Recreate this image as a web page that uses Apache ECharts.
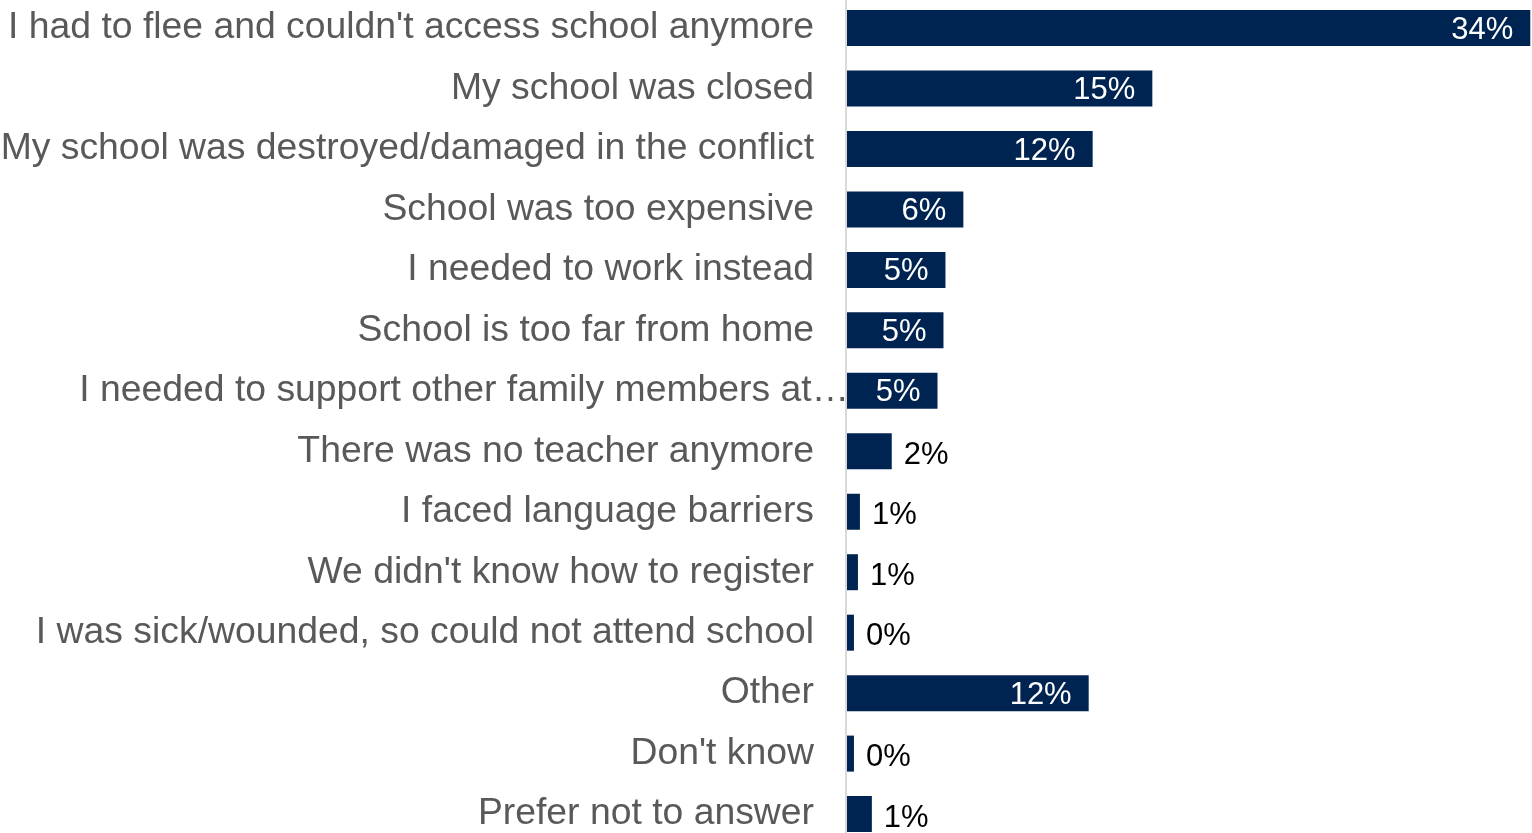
<!DOCTYPE html>
<html>
<head>
<meta charset="utf-8">
<title>Reasons for not attending school</title>
<script src="https://cdn.jsdelivr.net/npm/echarts@6/dist/echarts.min.js"></script>
<style>
  html, body { margin: 0; padding: 0; background: #ffffff; }
  #chart { width: 1532px; height: 833px; }
</style>
</head>
<body>
<div id="chart"></div>
<script>
// Reasons given, top to bottom
const categories = [
  "I had to flee and couldn't access school anymore",
  "My school was closed",
  "My school was destroyed/damaged in the conflict",
  "School was too expensive",
  "I needed to work instead",
  "School is too far from home",
  "I needed to support other family members at\u2026",
  "There was no teacher anymore",
  "I faced language barriers",
  "We didn't know how to register",
  "I was sick/wounded, so could not attend school",
  "Other",
  "Don't know",
  "Prefer not to answer"
];

// Share of respondents (%)
const shares = [34.4, 15.4, 12.4, 5.9, 5.0, 4.9, 4.6, 2.3, 0.7, 0.6, 0.4, 12.2, 0.4, 1.3];

const BAR_COLOR = '#002452';
const FONT = '"Liberation Sans", Arial, sans-serif';

const fmt = p => Math.round(p.value) + '%';

const insideLabel = {
  show: true, position: 'insideRight', distance: 17,
  color: '#ffffff', fontSize: 31, fontFamily: FONT, formatter: fmt,
  offset: [0, 2]
};
const outsideLabel = {
  show: true, position: 'right', distance: 12,
  color: '#000000', fontSize: 31, fontFamily: FONT, formatter: fmt,
  offset: [0, 4]
};

const barData = shares.map(v => ({
  value: v,
  label: v >= 4 ? insideLabel : outsideLabel
}));

// The truncated category runs its ellipsis past the label margin
const axisData = categories.map(c => c.endsWith('\u2026')
  ? { value: c, textStyle: { padding: [4, -35, 0, 0] } }
  : c);

const chart = echarts.init(document.getElementById('chart'), null, { renderer: 'canvas' });
chart.setOption({
  animation: false,
  backgroundColor: '#ffffff',
  grid: {
    left: 846, right: 1.7, top: -2.2, bottom: -11.3,
    containLabel: false,
    outerBoundsMode: 'none'
  },
  xAxis: {
    type: 'value', min: 0, max: 34.4,
    show: false
  },
  yAxis: {
    type: 'category',
    inverse: true,
    data: axisData,
    z: 3,
    axisLine: { show: true, lineStyle: { color: '#d9d9d9', width: 2 } },
    axisTick: { show: false },
    splitLine: { show: false },
    axisLabel: {
      margin: 32,
      padding: [4, 0, 0, 0],
      color: '#595959',
      fontSize: 37.35,
      fontFamily: FONT
    }
  },
  series: [{
    type: 'bar',
    data: barData,
    barWidth: 36,
    itemStyle: { color: BAR_COLOR },
    z: 2
  }]
});
</script>
</body>
</html>
